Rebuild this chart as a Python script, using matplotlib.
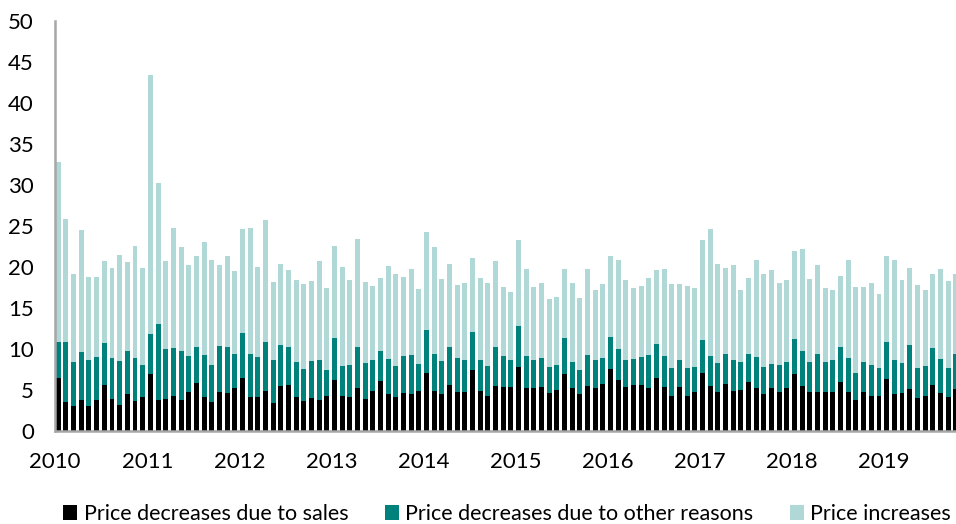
import matplotlib.pyplot as plt
import numpy as np

# monthly shares, Jan 2010 - Oct 2019 (percent of prices changing)
sales = [
    6.5, 3.5, 3.0, 3.8, 3.0, 3.8, 5.6, 3.9, 3.2, 4.5, 3.7, 4.1,
    7.0, 3.8, 3.9, 4.3, 3.8, 4.7, 5.8, 4.1, 3.5, 4.8, 4.6, 5.2,
    6.5, 4.2, 4.1, 4.9, 3.4, 5.5, 5.6, 4.1, 3.6, 4.0, 3.8, 4.3,
    6.2, 4.3, 4.2, 5.2, 3.9, 4.9, 6.1, 4.5, 4.2, 4.6, 4.5, 4.9,
    7.1, 4.9, 4.5, 5.6, 4.8, 4.7, 7.4, 4.9, 4.3, 5.5, 5.4, 5.4,
    7.8, 5.2, 5.2, 5.4, 4.6, 5.0, 7.0, 5.2, 4.5, 5.5, 5.3, 5.7,
    7.6, 6.2, 5.4, 5.6, 5.6, 5.3, 6.5, 5.4, 4.3, 5.4, 4.3, 4.8,
    7.1, 5.5, 4.8, 5.7, 4.9, 5.0, 6.0, 5.2, 4.5, 5.3, 4.8, 5.2,
    7.0, 5.5, 4.8, 4.7, 4.8, 4.8, 6.0, 4.7, 3.8, 4.7, 4.3, 4.3,
    6.3, 4.5, 4.6, 5.1, 4.0, 4.3, 5.6, 4.6, 4.1, 5.1,
]
decr_all = [
    10.8, 10.9, 8.4, 9.6, 8.6, 9.0, 10.7, 8.9, 8.5, 9.7, 8.9, 8.0,
    11.8, 13.1, 10.0, 10.1, 9.7, 9.1, 10.2, 9.3, 8.0, 10.4, 10.3, 9.4,
    11.9, 9.4, 9.0, 10.9, 8.6, 10.5, 10.3, 8.4, 7.6, 8.5, 8.6, 7.5,
    11.3, 7.9, 8.1, 10.3, 8.3, 8.7, 9.8, 8.8, 7.9, 9.1, 9.3, 8.2,
    12.3, 9.4, 8.5, 10.3, 8.9, 8.7, 12.1, 8.6, 7.9, 10.3, 9.1, 8.7,
    12.8, 9.1, 8.7, 8.9, 7.8, 8.0, 11.3, 8.4, 7.4, 9.3, 8.7, 8.9,
    11.5, 10.0, 8.6, 8.8, 9.0, 9.3, 10.6, 9.1, 7.7, 8.7, 7.7, 7.8,
    11.1, 9.1, 8.3, 9.4, 8.7, 8.4, 9.4, 9.0, 7.8, 8.2, 8.1, 8.4,
    11.2, 9.8, 8.4, 9.4, 8.4, 8.7, 10.2, 8.9, 7.1, 8.4, 8.0, 7.7,
    10.8, 8.7, 8.3, 10.5, 7.7, 7.9, 10.1, 8.8, 7.7, 9.4,
]
total = [
    32.8, 25.8, 19.2, 24.5, 18.8, 18.8, 20.7, 19.9, 21.5, 20.6, 22.6, 19.9,
    43.4, 30.2, 20.7, 24.8, 22.4, 20.2, 21.3, 23.0, 20.8, 20.3, 21.3, 19.5,
    24.6, 24.7, 20.0, 25.7, 18.2, 20.4, 19.6, 18.4, 17.9, 18.3, 20.7, 17.4,
    22.6, 20.0, 18.4, 23.4, 18.2, 17.7, 18.7, 20.1, 19.1, 18.8, 19.8, 17.3,
    24.3, 22.4, 18.5, 20.4, 17.8, 18.0, 21.1, 18.6, 18.0, 20.7, 17.6, 16.9,
    23.3, 19.8, 17.6, 18.1, 16.1, 16.3, 19.7, 18.1, 16.2, 19.8, 17.2, 17.9,
    21.4, 20.9, 18.4, 17.4, 17.7, 18.6, 19.6, 19.7, 17.9, 17.9, 17.7, 17.5,
    23.3, 24.6, 20.4, 19.9, 20.3, 17.2, 18.7, 20.9, 19.2, 19.6, 18.0, 18.4,
    21.9, 22.2, 18.5, 20.3, 17.5, 17.2, 18.9, 20.9, 17.6, 17.6, 18.0, 16.7,
    21.4, 20.8, 18.4, 19.9, 17.8, 17.2, 19.1, 19.7, 18.3, 19.1,
]
years = [str(y) for y in range(2010, 2020)]
labels = ["Price decreases due to sales",
          "Price decreases due to other reasons",
          "Price increases"]
colors = ["#000000", "#00827c", "#afd8d7"]

plt.rcParams["font.family"] = ["Lato", "DejaVu Sans"]

sales = np.array(sales)
decr_all = np.array(decr_all)
total = np.array(total)
other = decr_all - sales
incr = total - decr_all
x = np.arange(len(sales))

fig = plt.figure(figsize=(9.56, 5.24), dpi=100)
ax = fig.add_axes([54.7 / 956, 1 - 431 / 524, 1 - 54.7 / 956, 410 / 524])

w = 0.65
ax.bar(x, sales, w, color=colors[0], label=labels[0])
ax.bar(x, other, w, bottom=sales, color=colors[1], label=labels[1])
ax.bar(x, incr, w, bottom=decr_all, color=colors[2], label=labels[2])

ax.set_xlim(-0.47, 117.04)
ax.set_ylim(0, 50)
ax.set_yticks(np.arange(0, 51, 5))
ax.set_xticks(np.arange(0, 120, 12) - 0.4)
ax.set_xticklabels(years)
ax.tick_params(axis="both", length=0, labelsize=16)
ax.tick_params(axis="y", pad=15)
ax.tick_params(axis="x", pad=15)

for side in ("top", "right"):
    ax.spines[side].set_visible(False)
for side in ("left", "bottom"):
    ax.spines[side].set_color("#a6a6a6")
    ax.spines[side].set_linewidth(1.8)

ax.legend(loc="upper center", bbox_to_anchor=(0.502, -0.157), ncol=3,
          frameon=False, fontsize=15.5, handlelength=0.65, handleheight=0.65,
          handletextpad=0.3, columnspacing=1.7, borderaxespad=0)

fig.savefig("out.png", dpi=100)
